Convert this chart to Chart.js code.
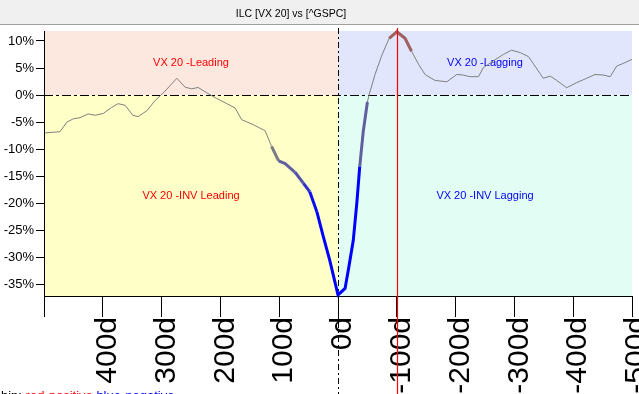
<!DOCTYPE html>
<html>
<head>
<meta charset="utf-8">
<script src="https://cdn.jsdelivr.net/npm/chart.js@4/dist/chart.umd.min.js"></script>
<style>
html,body{margin:0;padding:0;background:#fff;}
canvas{display:block;}
</style>
</head>
<body>
<canvas id="c" width="639" height="394"></canvas>
<script>
// ---- data ----
const titleText = 'ILC [VX 20] vs [^GSPC]';
const days = [498,473,461,450,439,425,413,399,385,374,362,349,340,325,311,297,274,260,249,238,223,206,189,175,164,144,124,113,101,90,73,59,48,36,25,14,0,-12,-18,-26,-32,-37,-43,-50,-53,-63,-74,-87,-100,-114,-125,-137,-148,-165,-185,-202,-213,-224,-239,-247,-264,-281,-295,-310,-324,-335,-349,-361,-372,-389,-406,-423,-437,-451,-463,-474,-485,-500];
const values = [-7.0,-6.8,-5.0,-4.4,-4.2,-3.5,-3.75,-3.4,-2.3,-1.6,-1.9,-3.75,-4.0,-2.9,-1.0,0.4,3.1,1.45,1.15,1.4,0.4,-0.65,-1.6,-2.4,-4.55,-5.5,-6.6,-9.5,-12.2,-12.7,-14.3,-16.3,-17.9,-21.6,-26.2,-30.6,-37.0,-35.8,-32.1,-26.9,-20.0,-13.2,-6.7,-1.3,0.1,3.8,7.2,10.5,11.7,10.5,8.1,5.7,3.8,2.7,2.45,3.8,3.7,3.4,3.4,5.05,6.3,7.5,8.3,7.85,7.1,5.35,3.1,3.5,2.7,1.35,2.3,3.1,3.8,3.7,3.4,5.35,5.85,6.6];
// relationship strength per point (red = positive, blue = negative)
const corr = [0,0,0,0,0,0,0,0,0,0,0,0,0,0,0,0,0,0,0,0,0,0,0,0,0,0,0,-0.05,-0.25,-0.25,-0.35,-0.6,-0.9,-1,-1,-1,-1,-1,-1,-1,-1,-0.25,-0.25,0,0,0,0,0.25,0.25,0.25,0,0,0,0,0,0,0,0,0,0,0,0,0,0,0,0,0,0,0,0,0,0,0,0,0,0,0,0];
const xTickValues = [500,400,300,200,100,0,-100,-200,-300,-400,-500];
const quadrantLabels = ['VX 20 -Leading','VX 20 -INV Leading','VX 20 -Lagging','VX 20 -INV Lagging'];
const markerDay = -100;
const footerParts = [['hip: ','#000'],['red-positive ','#ff0000'],['blue-negative','#0000ff']];

const points = days.map((d,i)=>({x:d,y:values[i]}));

function segColor(c){
  const t = Math.abs(c);
  if (c < 0) return `rgb(${Math.round(128*(1-t))},${Math.round(128*(1-t))},${Math.round(128*(1-t)+255*t)})`;
  if (c > 0) return `rgb(${Math.round(128*(1-t)+255*t)},${Math.round(128*(1-t))},${Math.round(128*(1-t))})`;
  return 'rgb(128,128,128)';
}

const FONT = "'Liberation Sans', Arial, sans-serif";

const framePlugin = {
  id:'frame',
  beforeDraw(chart){
    const {ctx, chartArea:a, scales:{x,y}} = chart;
    ctx.save();
    ctx.fillStyle='#fff'; ctx.fillRect(0,0,chart.width,chart.height);
    // title bar
    ctx.fillStyle='#f0f0f0'; ctx.fillRect(0,0,chart.width,24);
    ctx.fillStyle='#a0a0a0'; ctx.fillRect(0,24,chart.width,1);
    ctx.fillStyle='#000'; ctx.font='10.5px '+FONT; ctx.textAlign='center'; ctx.textBaseline='middle';
    ctx.fillText(titleText, 291, 14);
    // quadrants
    const x0 = x.getPixelForValue(0), y0 = y.getPixelForValue(0);
    ctx.fillStyle='#fde8e0'; ctx.fillRect(a.left,a.top,x0-a.left,y0-a.top);
    ctx.fillStyle='#ffffc8'; ctx.fillRect(a.left,y0,x0-a.left,a.bottom-y0);
    ctx.fillStyle='#e1e6fc'; ctx.fillRect(x0,a.top,a.right-x0,y0-a.top);
    ctx.fillStyle='#e2fef4'; ctx.fillRect(x0,y0,a.right-x0,a.bottom-y0);
    ctx.font='11px '+FONT;
    const lx=(a.left+x0)/2, rx=(x0+a.right)/2, ty=(a.top+y0)/2, by=(y0+a.bottom)/2;
    ctx.fillStyle='#ff0000';
    ctx.fillText(quadrantLabels[0], lx, ty);
    ctx.fillText(quadrantLabels[1], lx, by);
    ctx.fillStyle='#0000ff';
    ctx.fillText(quadrantLabels[2], rx, ty);
    ctx.fillText(quadrantLabels[3], rx, by);
    ctx.restore();
  },
  beforeDatasetsDraw(chart){
    const {ctx, chartArea:a, scales:{x,y}} = chart;
    const x0 = Math.round(x.getPixelForValue(0))+0.5, y0 = Math.round(y.getPixelForValue(0))+0.5;
    ctx.save();
    ctx.strokeStyle='#000'; ctx.lineWidth=1; ctx.setLineDash([9,3,3,3]);
    ctx.beginPath(); ctx.moveTo(a.left,y0); ctx.lineTo(a.right,y0); ctx.stroke();
    ctx.setLineDash([6,3,2,3]);
    ctx.beginPath(); ctx.moveTo(x0,28); ctx.lineTo(x0,chart.height); ctx.stroke();
    ctx.restore();
  },
  afterDraw(chart){
    const {ctx, scales:{x}} = chart;
    const xm = Math.round(x.getPixelForValue(markerDay))+0.5;
    ctx.save();
    ctx.setLineDash([]);
    ctx.globalAlpha = 1;
    ctx.strokeStyle='rgb(255,0,0)'; ctx.lineWidth=1.2;
    ctx.beginPath(); ctx.moveTo(xm,28); ctx.lineTo(xm,chart.height); ctx.stroke();
    ctx.font='13px '+FONT; ctx.textAlign='left'; ctx.textBaseline='alphabetic';
    let px = 1;
    footerParts.forEach(([t,c])=>{ ctx.fillStyle=c; ctx.fillText(t,px,400); px += ctx.measureText(t).width; });
    ctx.restore();
  }
};

new Chart(document.getElementById('c'), {
  type:'line',
  data:{datasets:[{
    data: points,
    borderColor:'rgb(128,128,128)',
    borderWidth:1,
    pointRadius:0,
    tension:0,
    clip:false,
    segment:{
      borderColor: ctx => segColor(corr[ctx.p0DataIndex]),
      borderWidth: ctx => corr[ctx.p0DataIndex] !== 0 ? 3 : 1
    }
  }]},
  options:{
    responsive:false,
    animation:false,
    layout:{padding:{top:31,right:7,left:0,bottom:0}},
    plugins:{legend:{display:false},tooltip:{enabled:false},title:{display:false}},
    scales:{
      x:{
        type:'linear', reverse:true, min:-500, max:500,
        afterBuildTicks(s){ s.ticks = xTickValues.map(v=>({value:v})); },
        afterFit(s){ s.height = 98; s.paddingLeft = 0; s.paddingRight = 0; },
        grid:{display:true, drawOnChartArea:false, drawTicks:true, tickLength:21, color:'#000', tickColor:'#000'},
        border:{display:true, color:'#000', width:1},
        ticks:{
          autoSkip:false, maxRotation:90, minRotation:90, padding:0, labelOffset:5,
          color:'#000', font:{family:FONT, size:30},
          callback:(v)=> v===500 ? '' : v+'d'
        }
      },
      y:{
        min:-37.2, max:11.85,
        afterFit(s){ s.width = 44; },
        grid:{display:true, drawOnChartArea:false, drawTicks:true, tickLength:8, color:'#000', tickColor:'#000'},
        border:{display:true, color:'#000', width:1},
        ticks:{stepSize:5, includeBounds:false, padding:2, color:'#000', font:{family:FONT, size:13},
          callback:(v)=> v+'%'}
      }
    }
  },
  plugins:[framePlugin]
});
</script>
</body>
</html>
